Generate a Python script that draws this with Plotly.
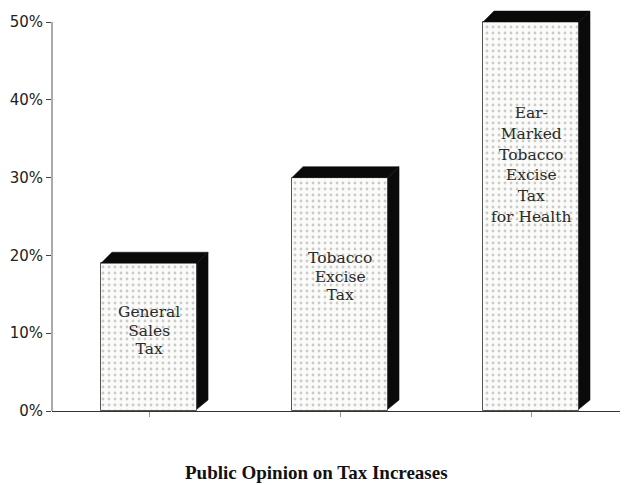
import plotly.graph_objects as go

# ---- data ----
categories = ["General Sales Tax", "Tobacco Excise Tax", "Ear-Marked Tobacco Excise Tax for Health"]
values = [19, 30, 50]
bar_label_lines = [
    ["General", "Sales", "Tax"],
    ["Tobacco", "Excise", "Tax"],
    ["Ear-", "Marked", "Tobacco", "Excise", "Tax", "for Health"],
]
tick_vals = [0, 10, 20, 30, 40, 50]
tick_text = ["0%", "10%", "20%", "30%", "40%", "50%"]
chart_title = "Public Opinion on Tax Increases"

# ---- layout constants (positions / styles) ----
label_centers = [10.3, 17.3, 31.6]   # vertical centre of each in-bar label (value units)
label_base_size = [14.4, 14.4, 16.0] # sets line spacing (1.3 x size)
label_font_px = 15.5
bar_width = 0.503
depth_dx = 0.0576                    # 3D depth in x-axis units
depth_dy = 1.41                      # 3D depth in y-axis units
x_range = [-0.508, 2.466]
y_range = [0, 52.06]

xs = list(range(len(categories)))

fig = go.Figure()

fig.add_trace(go.Bar(
    x=xs, y=values, width=bar_width,
    marker=dict(
        color="#fbfbf9",
        line=dict(color="#555", width=1),
        pattern=dict(shape=".", fgcolor="#9a9a9a", bgcolor="#fbfbf9", size=6, solidity=0.18),
    ),
    hovertext=categories, hoverinfo="text+y",
    showlegend=False,
))

# 3D side and top faces derived from the bar values
for x, v in zip(xs, values):
    xl = x - bar_width / 2
    xr = x + bar_width / 2
    fig.add_trace(go.Scatter(
        x=[xr, xr + depth_dx, xr + depth_dx, xr, xr],
        y=[0.25, depth_dy, v + depth_dy, v, 0.25],
        fill="toself", fillcolor="#0a0a0a", mode="lines",
        line=dict(color="#0a0a0a", width=0.5),
        hoverinfo="skip", showlegend=False,
    ))
    fig.add_trace(go.Scatter(
        x=[xl, xl + depth_dx, xr + depth_dx, xr, xl],
        y=[v, v + depth_dy, v + depth_dy, v, v],
        fill="toself", fillcolor="#0a0a0a", mode="lines",
        line=dict(color="#0a0a0a", width=0.5),
        hoverinfo="skip", showlegend=False,
    ))

annotations = []
for x, lines, c, bs in zip(xs, bar_label_lines, label_centers, label_base_size):
    text = "<br>".join(
        '<span style="font-size:%.1fpx">%s</span>' % (label_font_px, ln) for ln in lines
    )
    annotations.append(dict(
        x=x, y=c, xref="x", yref="y",
        text=text, showarrow=False,
        font=dict(family="DejaVu Serif", size=bs, color="#2a2a2a"),
        xanchor="center", yanchor="middle", align="center",
    ))

annotations.append(dict(
    x=0.466, y=-0.153, xref="paper", yref="paper",
    text="<b>" + chart_title + "</b>", showarrow=False,
    font=dict(family="Liberation Serif", size=19, color="#111"),
    xanchor="center", yanchor="middle",
))

fig.update_layout(
    width=626, height=485,
    margin=dict(l=52, r=6, t=6, b=74),
    paper_bgcolor="white", plot_bgcolor="white",
    annotations=annotations,
    shapes=[dict(
        type="line", xref="paper", yref="y",
        x0=0, x1=0, y0=0, y1=tick_vals[-1],
        line=dict(color="#555", width=1),
    )],
    bargap=0,
)

fig.update_xaxes(
    range=x_range, tickvals=xs, ticktext=["", "", ""],
    showline=True, linecolor="#333", linewidth=1,
    ticks="outside", ticklen=5, tickcolor="#999",
    showgrid=False, zeroline=False,
)
fig.update_yaxes(
    range=y_range, tickvals=tick_vals, ticktext=tick_text,
    showline=False, ticks="outside", ticklen=5, tickcolor="#444",
    tickfont=dict(family="DejaVu Sans", size=15, color="#222"),
    showgrid=False, zeroline=False,
)

fig.write_html("out.html")
